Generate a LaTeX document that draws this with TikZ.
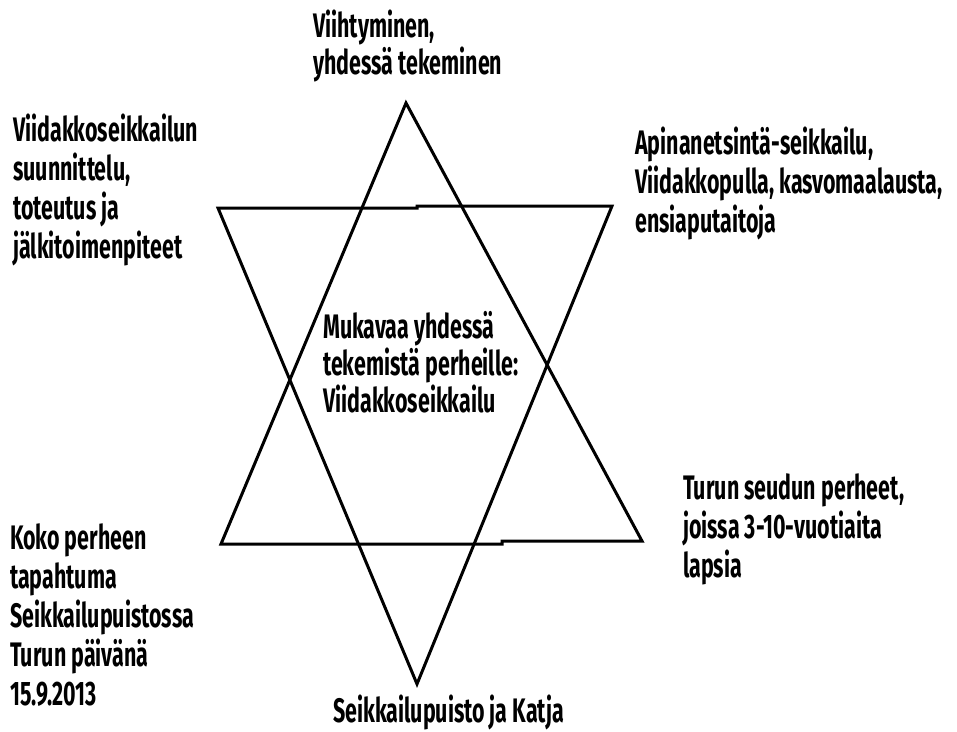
\documentclass[tikz,border=0pt]{standalone}
\usepackage{fontspec}
\newfontfamily\starfont{Fira Sans}[FakeStretch=0.63]

\begin{document}
\begin{tikzpicture}[
    x=1pt, y=-1pt, % pixel-like units, y pointing down
    curve/.style={line width=3pt, line join=miter}, % Base style for triangle sides
    labelstyle/.style={anchor=base west, inner sep=0pt, align=left,
        font=\starfont\bfseries\fontsize{34}{39}\selectfont}, % Base style for labels (base = last line)
    tightstyle/.style={labelstyle, font=\starfont\bfseries\fontsize{34}{37}\selectfont} % Labels with closer lines
]
    \useasboundingbox (0,0) rectangle (957,731);

    % Corners of the upward triangle
    \coordinate (u1) at (406,103);
    \coordinate (u2) at (221,544);
    \coordinate (u3) at (642,541);
    \coordinate (j1) at (502,544); % small jog in the base line
    \coordinate (j2) at (502,541);

    % Corners of the downward triangle
    \coordinate (d1) at (218,208);
    \coordinate (d2) at (612,206);
    \coordinate (d3) at (417,684);
    \coordinate (k1) at (417,208); % small jog in the top line
    \coordinate (k2) at (417,206);

    % Draw the two triangles
    \draw[curve] (u1) -- (u2) -- (j1) -- (j2) -- (u3) -- cycle;
    \draw[curve] (d1) -- (k1) -- (k2) -- (d2) -- (d3) -- cycle;

    % Labels round the star
    \node[tightstyle] (fun) at (313,74) {Viihtyminen,\\yhdessä tekeminen};
    \node[labelstyle] (plan) at (13,258) {Viidakkoseikkailun\\suunnittelu,\\toteutus ja\\jälkitoimenpiteet};
    \node[labelstyle] (prog) at (635,232) {Apinanetsintä-seikkailu,\\Viidakkopulla, kasvomaalausta,\\ensiaputaitoja};
    \node[tightstyle] (core) at (323,412) {Mukavaa yhdessä\\tekemistä perheille:\\Viidakkoseikkailu};
    \node[labelstyle] (target) at (683,577) {Turun seudun perheet,\\joissa 3-10-vuotiaita\\lapsia};
    \node[labelstyle] (event) at (10,705) {Koko perheen\\tapahtuma\\Seikkailupuistossa\\Turun päivänä\\15.9.2013};
    \node[labelstyle] (who) at (333,722) {Seikkailupuisto ja Katja};

\end{tikzpicture}
\end{document}
